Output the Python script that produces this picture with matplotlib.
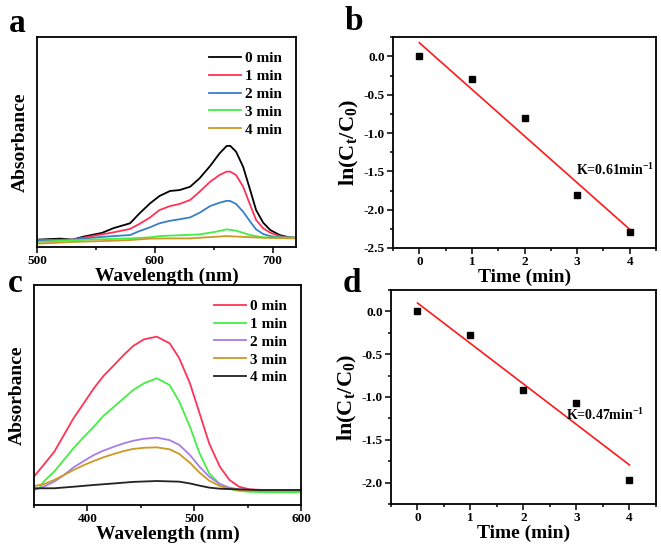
import numpy as np
import matplotlib
matplotlib.use('Agg')
import matplotlib.pyplot as plt
from matplotlib.ticker import MultipleLocator

plt.rcParams['font.family'] = 'Liberation Serif'
plt.rcParams['font.weight'] = 'bold'
plt.rcParams['axes.unicode_minus'] = False
plt.rcParams['mathtext.fontset'] = 'custom'
plt.rcParams['mathtext.rm'] = 'Liberation Serif:bold'
plt.rcParams['mathtext.it'] = 'Liberation Serif:bold'
plt.rcParams['mathtext.bf'] = 'Liberation Serif:bold'

############################## data ##############################
labels = ['0 min', '1 min', '2 min', '3 min', '4 min']

# panel a - UV-vis spectra (arbitrary units)
wl_a0 = [500, 520, 530, 540, 555, 565, 579, 587, 596, 604, 613, 621, 630, 638, 647, 655, 661, 664, 669, 675, 681,
         686, 692, 698, 706, 714, 720]
abs_a0 = [0.035, 0.04, 0.035, 0.05, 0.067, 0.09, 0.113, 0.16, 0.208, 0.243, 0.267, 0.271, 0.287, 0.327, 0.386, 0.446,
          0.481, 0.482, 0.454, 0.382, 0.271, 0.176, 0.116, 0.081, 0.057, 0.046, 0.044]
wl_a1 = [500, 530, 555, 565, 579, 587, 596, 604, 613, 621, 630, 638, 647, 655, 661, 664, 669, 675, 681, 686, 692,
         698, 706, 714, 720]
abs_a1 = [0.033, 0.035, 0.06, 0.07, 0.086, 0.11, 0.141, 0.176, 0.195, 0.205, 0.224, 0.263, 0.311, 0.343, 0.359, 0.359,
          0.343, 0.287, 0.2, 0.129, 0.089, 0.068, 0.052, 0.044, 0.044]
wl_a2 = [500, 530, 555, 565, 579, 587, 596, 604, 613, 621, 630, 638, 647, 655, 661, 664, 669, 675, 681, 686, 692,
         698, 706, 720]
abs_a2 = [0.033, 0.035, 0.048, 0.052, 0.057, 0.076, 0.094, 0.113, 0.125, 0.132, 0.141, 0.163, 0.195, 0.211, 0.22,
          0.219, 0.205, 0.168, 0.121, 0.084, 0.062, 0.052, 0.046, 0.044]
wl_a3 = [500, 530, 560, 579, 596, 604, 621, 638, 652, 661, 669, 681, 692, 720]
abs_a3 = [0.024, 0.032, 0.038, 0.041, 0.046, 0.052, 0.056, 0.06, 0.073, 0.084, 0.078, 0.057, 0.046, 0.044]
wl_a4 = [500, 530, 560, 579, 596, 613, 630, 652, 661, 672, 692, 720]
abs_a4 = [0.016, 0.024, 0.029, 0.033, 0.04, 0.041, 0.041, 0.049, 0.052, 0.049, 0.044, 0.041]

# panel c - UV-vis spectra (arbitrary units)
wl_c0 = [350, 359, 369, 378, 387, 397, 406, 415, 425, 434, 443, 453, 465, 477, 486, 496, 505, 514, 524, 533, 542,
         552, 561, 571, 600]
abs_c0 = [0.129, 0.182, 0.242, 0.318, 0.394, 0.465, 0.53, 0.586, 0.636, 0.682, 0.723, 0.753, 0.765, 0.735, 0.667,
          0.553, 0.417, 0.28, 0.174, 0.114, 0.083, 0.071, 0.069, 0.068, 0.068]
wl_c1 = [356, 359, 369, 378, 387, 397, 406, 415, 425, 434, 443, 453, 465, 477, 486, 496, 505, 514, 524, 533, 542,
         552, 571, 600]
abs_c1 = [0.083, 0.106, 0.152, 0.205, 0.258, 0.311, 0.356, 0.405, 0.447, 0.485, 0.523, 0.553, 0.576, 0.545, 0.47,
          0.356, 0.235, 0.144, 0.095, 0.073, 0.064, 0.06, 0.058, 0.058]
wl_c2 = [350, 359, 369, 378, 387, 397, 406, 415, 425, 434, 443, 453, 465, 477, 486, 496, 505, 514, 524, 533, 542,
         552, 571, 600]
abs_c2 = [0.068, 0.083, 0.106, 0.136, 0.171, 0.201, 0.227, 0.247, 0.265, 0.28, 0.292, 0.301, 0.306, 0.295, 0.273,
          0.227, 0.174, 0.129, 0.095, 0.079, 0.071, 0.069, 0.068, 0.068]
wl_c3 = [350, 359, 369, 378, 387, 397, 406, 415, 425, 434, 443, 453, 465, 477, 486, 496, 505, 514, 524, 533, 542,
         561, 600]
abs_c3 = [0.086, 0.094, 0.114, 0.136, 0.159, 0.182, 0.2, 0.217, 0.232, 0.245, 0.255, 0.26, 0.262, 0.253, 0.232,
          0.192, 0.147, 0.111, 0.086, 0.074, 0.068, 0.064, 0.064]
wl_c4 = [350, 369, 387, 406, 425, 443, 465, 486, 496, 505, 514, 524, 542, 561, 600]
abs_c4 = [0.076, 0.076, 0.083, 0.091, 0.098, 0.105, 0.109, 0.106, 0.098, 0.088, 0.079, 0.074, 0.071, 0.068, 0.068]

# kinetics
time_min = [0, 1, 2, 3, 4]
lnC_b = [0.0, -0.30, -0.80, -1.81, -2.29]
lnC_d = [0.0, -0.28, -0.92, -1.07, -1.97]
k_text_b = 'K=0.61min$^{-1}$'
k_text_d = 'K=0.47min$^{-1}$'

colors_a = ['#000000', '#ff3355', '#3a7dc9', '#44ee44', '#cc9922']
colors_c = ['#ff3355', '#44ee44', '#a77ee8', '#cc9922', '#222222']

############################## figure ##############################
fig = plt.figure(figsize=(6.61, 5.46), dpi=100)

ax_a = fig.add_axes([0.056, 0.5476, 0.392, 0.3846])
ax_b = fig.add_axes([0.5946, 0.5458, 0.398, 0.386])
ax_c = fig.add_axes([0.0514, 0.0751, 0.404, 0.403])
ax_d = fig.add_axes([0.5915, 0.0769, 0.4009, 0.392])


def style_axes(ax):
    for sp in ax.spines.values():
        sp.set_linewidth(1.3)
    ax.tick_params(which='both', direction='out', top=False, right=False, width=1.1, labelsize=9.5, pad=2)
    ax.tick_params(which='major', length=4)
    ax.tick_params(which='minor', length=2.5)


# ---- spectra panels ----
for ax, xs, ys, cols, xlim, xmaj in [
        (ax_a, [wl_a0, wl_a1, wl_a2, wl_a3, wl_a4], [abs_a0, abs_a1, abs_a2, abs_a3, abs_a4], colors_a, (500, 720), 100),
        (ax_c, [wl_c0, wl_c1, wl_c2, wl_c3, wl_c4], [abs_c0, abs_c1, abs_c2, abs_c3, abs_c4], colors_c, (350, 600), 100)]:
    for x, y, c, lab in zip(xs, ys, cols, labels):
        ax.plot(x, y, color=c, lw=1.3, label=lab)
    ax.set_xlim(*xlim)
    ax.set_ylim(0, 1)
    ax.xaxis.set_major_locator(MultipleLocator(xmaj))
    ax.xaxis.set_minor_locator(MultipleLocator(xmaj / 2))
    ax.set_yticks([])
    style_axes(ax)
    ax.set_xlabel('Wavelength (nm)', fontsize=14, fontweight='bold', labelpad=0)
    ax.set_ylabel('Absorbance', fontsize=14, fontweight='bold', labelpad=6)
    ax.legend(loc='upper right', frameon=False, fontsize=11, handlelength=2.1, handletextpad=0.25,
              labelspacing=0.27, borderaxespad=0.55)

# ---- kinetics panels ----
for ax, y, ktxt, kpos, ylim in [(ax_b, lnC_b, k_text_b, (2.98, -1.48), (-2.5, 0.25)),
                                (ax_d, lnC_d, k_text_d, (2.8, -1.21), (-2.25, 0.25))]:
    slope, icpt = np.polyfit(time_min, y, 1)
    t = np.array([time_min[0], time_min[-1]])
    ax.plot(t, slope * t + icpt, color='#ff1a1a', lw=1.2)
    ax.plot(time_min, y, 's', color='black', ms=4)
    ax.set_xlim(-0.5, 4.5)
    ax.set_ylim(*ylim)
    ax.xaxis.set_major_locator(MultipleLocator(1))
    ax.xaxis.set_minor_locator(MultipleLocator(0.5))
    ax.yaxis.set_major_locator(MultipleLocator(0.5))
    ax.yaxis.set_minor_locator(MultipleLocator(0.25))
    ax.yaxis.set_major_formatter(plt.FormatStrFormatter('%.1f'))
    style_axes(ax)
    ax.text(kpos[0], kpos[1], ktxt, fontsize=10, fontweight='bold', va='center', ha='left')
    ax.set_xlabel('Time (min)', fontsize=14, fontweight='bold', labelpad=0)
    ax.set_ylabel(r'ln(C$_{t}$/C$_{0}$)', fontsize=16, fontweight='bold', labelpad=2)

# ---- panel letters ----
for lab, x, y in [('a', 9, 8), ('b', 345, 6), ('c', 8, 268), ('d', 343, 268)]:
    fig.text(x / 661, 1 - y / 546, lab, fontsize=24, fontweight='bold', va='top', ha='left')

fig.savefig('out.png', dpi=100)
